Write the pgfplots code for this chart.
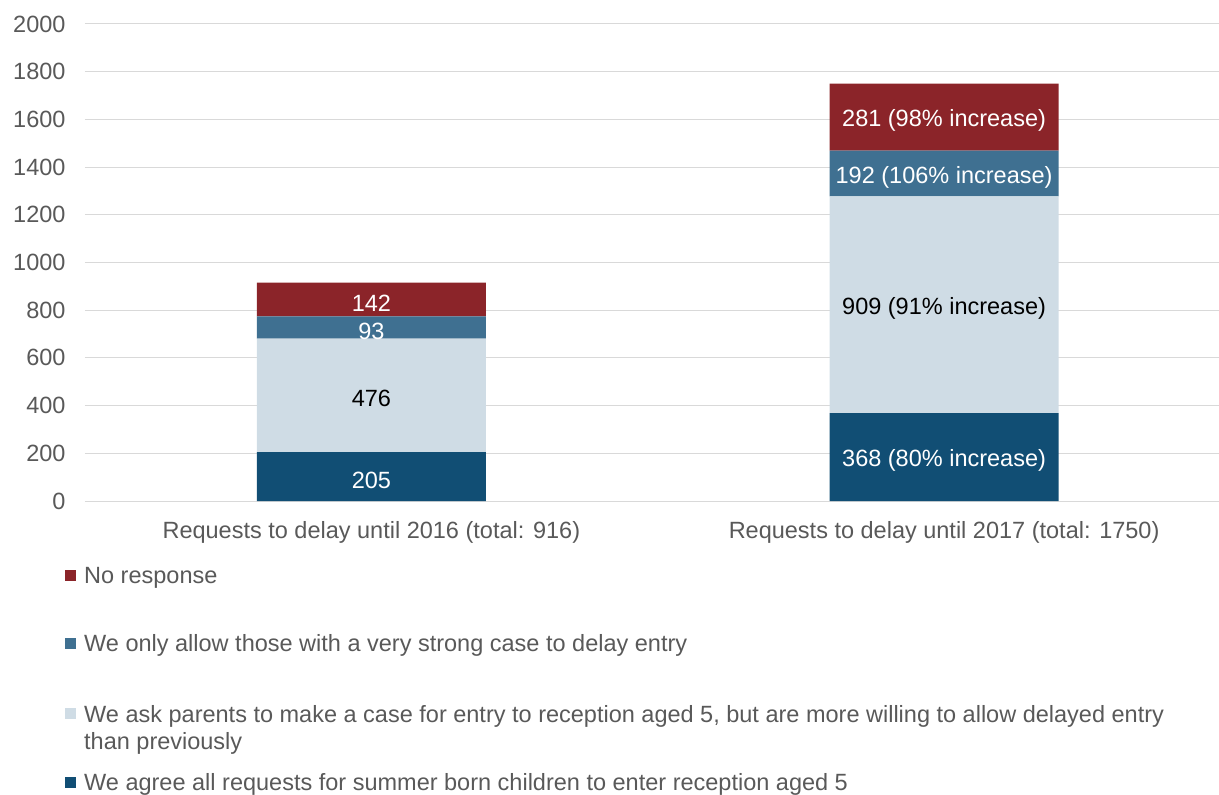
\documentclass[border=0pt]{standalone}
\usepackage{pgfplots}
\pgfplotsset{compat=1.18}
\usepackage{fontspec}
\setmainfont{Liberation Sans}
\definecolor{cRed}{RGB}{139,36,41}
\definecolor{cMid}{RGB}{63,112,145}
\definecolor{cLight}{RGB}{207,220,229}
\definecolor{cDark}{RGB}{17,78,116}
\definecolor{txt}{RGB}{89,89,89}
\definecolor{grd}{RGB}{217,217,217}
\pgfplotsset{base/.style={scale only axis, width=1134pt, height=477pt,
  xmin=-0.5, xmax=1.48, ymin=0, ymax=2000}}
\begin{document}
\begin{tikzpicture}
\begin{axis}[
  base,
  ybar stacked, bar width=229pt,
  xtick={0,1},
  xticklabels={Requests to delay until 2016 (total: 916), Requests to delay until 2017 (total: 1750)},
  ytick={0,200,...,2000},
  ymajorgrids, grid style={grd, line width=1pt},
  axis line style={draw=none},
  major tick length=0pt,
  tick style={draw=none},
  /pgf/number format/assume math mode=true,
  /pgf/number format/1000 sep={},
  ticklabel style={font=\fontsize{23.5}{27}\selectfont, text=txt},
  yticklabel style={xshift=-16pt},
  xticklabel style={yshift=-17pt},
  reverse legend,
  legend cell align=left,
  legend image code/.code={\fill[#1, draw=none] (0pt,-5pt) rectangle (11pt,6pt); \path (17pt,0pt);},
  legend style={at={(0,0)}, anchor=north west, xshift=-20pt, yshift=-64pt,
     draw=none, fill=none, font=\fontsize{23.5}{27}\selectfont, text=txt, row sep=46pt, inner sep=0pt},
]
\addplot[fill=cDark, draw=none] coordinates {(0,205) (1,368)};
\addlegendentry{We agree all requests for summer born children to enter reception aged 5}
\addplot[fill=cLight, draw=none] coordinates {(0,476) (1,909)};
\addlegendentry{\raisebox{0pt}[\height][0pt]{\begin{tabular}[t]{@{}l@{}}We ask parents to make a case for entry to reception aged 5, but are more willing to allow delayed entry\\than previously\end{tabular}}}
\addplot[fill=cMid, draw=none] coordinates {(0,93) (1,192)};
\addlegendentry{We only allow those with a very strong case to delay entry}
\addplot[fill=cRed, draw=none] coordinates {(0,142) (1,281)};
\addlegendentry{No response}
\end{axis}
% labels at the middle of each stacked segment
\begin{axis}[base, hide axis, point meta=explicit symbolic, nodes near coords,
  every node near coord/.append style={font=\fontsize{23.5}{27}\selectfont, anchor=center, yshift=-3.5pt}]
\addplot[draw=none, mark=none, every node near coord/.append style={text=white}]
  coordinates {(0,102.5) [205] (1,184) [368 (80\% increase)]};
\addplot[draw=none, mark=none, every node near coord/.append style={text=black}]
  coordinates {(0,443) [476] (1,822.5) [909 (91\% increase)]};
\addplot[draw=none, mark=none, every node near coord/.append style={text=white}]
  coordinates {(0,727.5) [93] (1,1373) [192 (106\% increase)]};
\addplot[draw=none, mark=none, every node near coord/.append style={text=white}]
  coordinates {(0,845) [142] (1,1609.5) [281 (98\% increase)]};
\end{axis}
\pgfresetboundingbox
\path[use as bounding box] ([xshift=-85pt,yshift=-293pt]current axis.south west) rectangle ([yshift=24pt]current axis.north east);
\end{tikzpicture}
\end{document}
